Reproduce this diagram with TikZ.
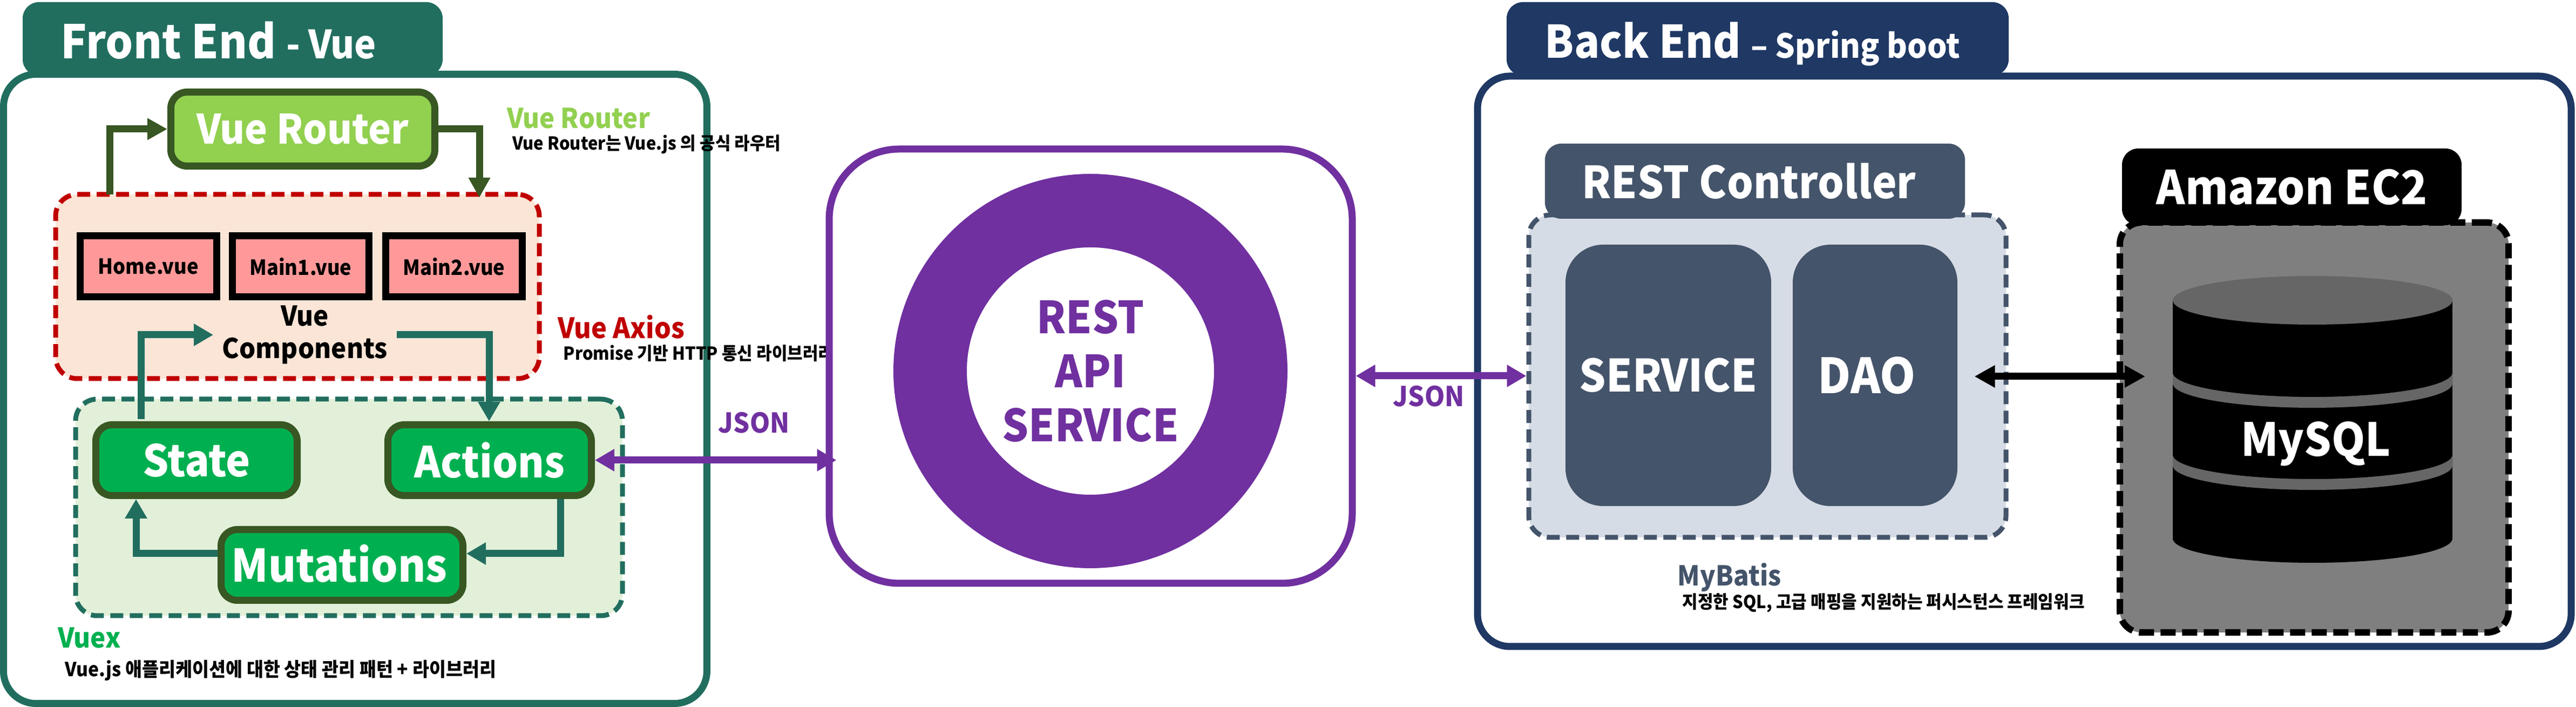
\documentclass[tikz,border=0pt]{standalone}
\usepackage{fontspec}
\setmainfont{Noto Sans CJK KR}[FakeStretch=0.94]
\usetikzlibrary{arrows.meta,shadows}

\definecolor{frontc}{HTML}{216E5F}
\definecolor{backc}{HTML}{1F3864}
\definecolor{slatec}{HTML}{44546A}
\definecolor{slatelt}{HTML}{D6DCE5}
\definecolor{leafc}{HTML}{92D050}
\definecolor{mossc}{HTML}{385723}
\definecolor{vuexc}{HTML}{00B050}
\definecolor{vuexlt}{HTML}{E2F0D9}
\definecolor{axiosc}{HTML}{C00000}
\definecolor{axioslt}{HTML}{FBE5D6}
\definecolor{pinkc}{HTML}{FF9999}
\definecolor{restc}{HTML}{7030A0}
\definecolor{dbbox}{HTML}{7F7F7F}
\definecolor{dbtop}{HTML}{666666}

\newcommand{\fsz}[1]{\bfseries\fontsize{#1}{#1}\selectfont}

\tikzset{
  box/.style={rectangle,inner sep=0pt,line width=0.13cm},
  panel/.style={box,fill=white,rounded corners=0.6cm},
  tab/.style={box,rounded corners=0.3cm,text=white,font=\fsz{23.7}},
  dashbox/.style={box,line width=0.09cm,rounded corners=0.4cm,dash pattern=on 0.24cm off 0.12cm},
  vuebox/.style={box,draw=black,fill=pinkc,minimum width=2.53cm,minimum height=1.13cm,font=\fsz{11},
    drop shadow={shadow xshift=0.02cm,shadow yshift=-0.05cm,opacity=0.3}},
  storebox/.style={box,draw=mossc,fill=vuexc,text=white,rounded corners=0.3cm,minimum height=1.31cm,font=\fsz{23.7}},
  slatebox/.style={box,fill=slatec,text=white,rounded corners=0.7cm,minimum height=4.84cm,font=\fsz{23.5}},
  head/.style={inner sep=0pt,anchor=base west,font=\fsz{14.4}},
  small/.style={inner sep=0pt,anchor=base west,font=\fsz{9.4}},
  mossline/.style={line width=0.13cm,draw=mossc,-{Triangle[length=0.37cm,width=0.38cm]}},
  tealline/.style={line width=0.13cm,draw=frontc,-{Triangle[length=0.36cm,width=0.39cm]}},
  jsonline/.style={line width=0.13cm,draw=restc,{Triangle[length=0.36cm,width=0.39cm]}-{Triangle[length=0.36cm,width=0.39cm]}},
}

\begin{document}
\begin{tikzpicture}
\useasboundingbox (0,0) rectangle (47.72,13.09);

% front end
\node[panel,draw=frontc,minimum width=13.03cm,minimum height=11.65cm] (frontpanel) at (6.58,5.89) {};
\node[tab,fill=frontc,minimum width=7.78cm,minimum height=1.36cm] (fronttab) at (4.31,12.37) {};
\node[inner sep=0pt,anchor=base west,text=white] (fronttitle) at (1.12,12.00) {\fsz{24.4}Front End \fsz{20.5}- Vue};

\node[box,draw=mossc,fill=leafc,text=white,rounded corners=0.3cm,minimum width=4.89cm,minimum height=1.37cm,font=\fsz{21.4}] (router) at (5.61,10.70) {\raisebox{-0.06cm}{Vue Router}};

\node[dashbox,draw=axiosc,fill=axioslt,minimum width=8.96cm,minimum height=3.41cm] (compbox) at (5.51,7.785) {};
\node[vuebox] (home) at (2.745,8.155) {Home.vue};
\node[vuebox] (mainone) at (5.57,8.155) {Main1.vue};
\node[vuebox] (maintwo) at (8.41,8.155) {Main2.vue};
\node[inner xsep=0.16cm,inner ysep=0pt,align=center,font=\fsz{14.4}] (comps) at (5.65,6.89) {Vue\\[0.09cm]Components};

\node[dashbox,draw=frontc,fill=vuexlt,minimum width=10.13cm,minimum height=4.01cm] (vuexbox) at (6.465,3.695) {};
\node[storebox,minimum width=3.73cm,font=\fsz{23}] (state) at (3.64,4.57) {State};
\node[storebox,minimum width=3.77cm,font=\fsz{22.5}] (actions) at (9.07,4.57) {\raisebox{-0.06cm}{Actions}};
\node[storebox,minimum width=4.48cm] (mutations) at (6.335,2.63) {\hspace{-0.1cm}\raisebox{0.06cm}{Mutations}};

\node[head,text=leafc] (routerhead) at (9.39,10.715) {Vue Router};
\node[small] (routernote) at (9.49,10.31) {Vue Router는 Vue.js 의 공식 라우터};
\node[head,text=axiosc,font=\fsz{14.8}] (axioshead) at (10.33,6.82) {Vue Axios};
\node[small] (axiosnote) at (10.43,6.42) {Promise 기반 HTTP 통신 라이브러리};
\node[head,text=vuexc] (vuexhead) at (1.07,1.09) {Vuex};
\node[small,font=\fsz{10.2}] (vuexnote) at (1.20,0.56) {Vue.js 애플리케이션에 대한 상태 관리 패턴 + 라이브러리};

% rest service
\node[panel,draw=restc,rounded corners=1.3cm,minimum width=9.69cm,minimum height=8.04cm] (restpanel) at (20.205,6.31) {};
\node[circle,draw=restc,fill=white,line width=1.36cm,minimum size=5.94cm,inner sep=0pt,align=center,text=restc,font=\fsz{23.3}] (restservice) at (20.20,6.22) {REST\\[0.18cm]API\\[0.18cm]SERVICE};

\node[head,text=restc] (jsonleft) at (13.30,5.07) {JSON};
\node[head,text=restc] (jsonright) at (25.80,5.56) {JSON};

% back end
\node[panel,draw=backc,minimum width=20.26cm,minimum height=10.56cm] (backpanel) at (37.50,6.40) {};
\node[tab,fill=backc,minimum width=9.30cm,minimum height=1.36cm] (backtab) at (32.56,12.37) {};
\node[inner sep=0pt,anchor=base west,text=white] (backtitle) at (28.61,12.01) {\fsz{23.7}Back End \fsz{17.5}-- Spring boot};

\node[dashbox,draw=slatec,fill=slatelt,minimum width=8.84cm,minimum height=5.97cm] (ctrlbox) at (32.74,6.125) {};
\node[tab,fill=slatec,minimum width=7.78cm,minimum height=1.39cm,font=\fsz{23.3}] (ctrltab) at (32.51,9.735) {\hspace{-0.22cm}\raisebox{-0.1cm}{REST Controller}};
\node[slatebox,minimum width=3.81cm] (servicebox) at (30.905,6.14) {SERVICE};
\node[slatebox,minimum width=3.05cm,font=\fsz{25.5}] (daobox) at (34.735,6.14) {\hspace{-0.3cm}DAO};

\node[dashbox,line width=0.12cm,draw=black,fill=dbbox,dash pattern=on 0.28cm off 0.12cm,minimum width=7.20cm,minimum height=7.59cm] (ec2box) at (42.87,5.175) {};
\node[tab,fill=black,minimum width=6.29cm,minimum height=1.42cm,font=\fsz{24.5}] (ec2tab) at (42.455,9.63) {\raisebox{-0.04cm}{Amazon EC2}};

\fill[black] (40.25,7.53) -- (40.25,3.12) arc[start angle=180,end angle=360,x radius=2.59,y radius=0.45] -- (45.43,7.53) -- cycle;
\foreach \bandy in {6.19,4.67}
  \fill[dbtop] (40.25,\bandy) arc[start angle=180,end angle=360,x radius=2.59,y radius=0.45]
    -- (45.43,\bandy-0.2) arc[start angle=360,end angle=180,x radius=2.59,y radius=0.45] -- cycle;
\fill[dbtop] (42.84,7.53) ellipse (2.59 and 0.45);
\node[text=white,font=\fsz{24}] (mysql) at (42.90,4.87) {MySQL};

\node[head,text=slatec] (batishead) at (31.07,2.24) {MyBatis};
\node[small] (batisnote) at (31.16,1.82) {지정한 SQL, 고급 매핑을 지원하는 퍼시스턴스 프레임워크};

% connectors
\coordinate (routerout) at (2.03,9.49);
\coordinate (routerin) at (8.88,9.43);
\coordinate (stateup) at (2.61,5.33);
\coordinate (actionsin) at (9.06,5.29);
\coordinate (actionsout) at (10.38,3.85);
\coordinate (stateback) at (2.52,3.85);
\coordinate (mutin) at (8.64,2.84);
\coordinate (mutout) at (4.03,2.84);
\coordinate (jsonrow) at (30,6.13);
\coordinate (dbrow) at (38,6.12);

\draw[mossline] (routerout) |- (router.west);
\draw[mossline] (router.east) -| (routerin);
\draw[tealline] (stateup) |- (comps.west);
\draw[tealline] (comps.east) -| (actionsin);
\draw[tealline] (actionsout) |- (mutin);
\draw[tealline] (mutout) -| (stateback);
\draw[jsonline,shorten >=-0.2cm] (actions.east) -- (restpanel.west |- actions.east);
\draw[jsonline] (restpanel.east |- jsonrow) -- (ctrlbox.west |- jsonrow);
\draw[line width=0.13cm,{Triangle[length=0.38cm,width=0.39cm]}-{Triangle[length=0.38cm,width=0.39cm]},shorten <=0.25cm,shorten >=-0.53cm] (daobox.east |- dbrow) -- (ec2box.west |- dbrow);
\end{tikzpicture}
\end{document}
